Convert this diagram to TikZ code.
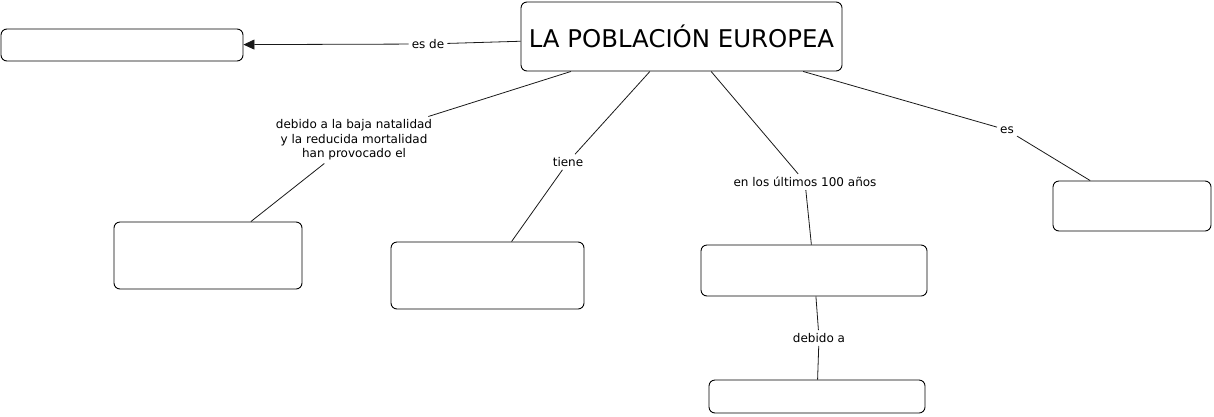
\documentclass[tikz,border=0pt]{standalone}
\usepackage{fontspec}
\setmainfont{DejaVu Sans}
\usetikzlibrary{arrows.meta}
\begin{document}
\begin{tikzpicture}[x=1pt,y=-1pt,
  box/.style={draw=black,line width=0.9pt,rounded corners=6pt,fill=white,inner sep=0pt},
  lab/.style={font=\fontsize{12}{14.5}\selectfont,align=center,inner sep=3pt,text=black},
  conn/.style={draw=black!90,line width=0.8pt}]
\useasboundingbox (0,0) rectangle (1214,416);
\node[box,minimum width=321pt,minimum height=69pt,font=\fontsize{24.4}{28}\selectfont] (main) at (681.5,36.5) {LA POBLACIÓN EUROPEA};
\node[box,minimum width=242pt,minimum height=32pt] (b1) at (122,45) {};
\node[box,minimum width=188pt,minimum height=67pt] (b2) at (208,255.5) {};
\node[box,minimum width=193pt,minimum height=67pt] (b3) at (487.5,275.5) {};
\node[box,minimum width=226pt,minimum height=51pt] (b4) at (814,270.5) {};
\node[box,minimum width=158pt,minimum height=50pt] (b5) at (1132,206) {};
\node[box,minimum width=216pt,minimum height=33pt] (b6) at (817,396.5) {};

\node[lab] (l1) at (428,44) {es de};
\node[lab] (l2) at (354,140) {debido a la baja natalidad\\ y la reducida mortalidad\\ han provocado el};
\node[lab] (l3) at (568,162) {tiene};
\node[lab] (l4) at (805,182) {en los últimos 100 años};
\node[lab] (l5) at (1007,130) {es};
\node[lab] (l6) at (819,338) {debido a};

\draw[conn] (main) -- (l1);
\draw[conn,-{Triangle[length=11pt,width=10pt]}] (l1) -- (b1);
\draw[conn] (main) -- (l2);
\draw[conn] (l2) -- (b2);
\draw[conn] (main) -- (l3);
\draw[conn] (l3) -- (b3);
\draw[conn] (main) -- (l4);
\draw[conn] (l4) -- (b4);
\draw[conn] (main) -- (l5);
\draw[conn] (l5) -- (b5);
\draw[conn] (b4) -- (l6);
\draw[conn] (l6) -- (b6);
\end{tikzpicture}
\end{document}
